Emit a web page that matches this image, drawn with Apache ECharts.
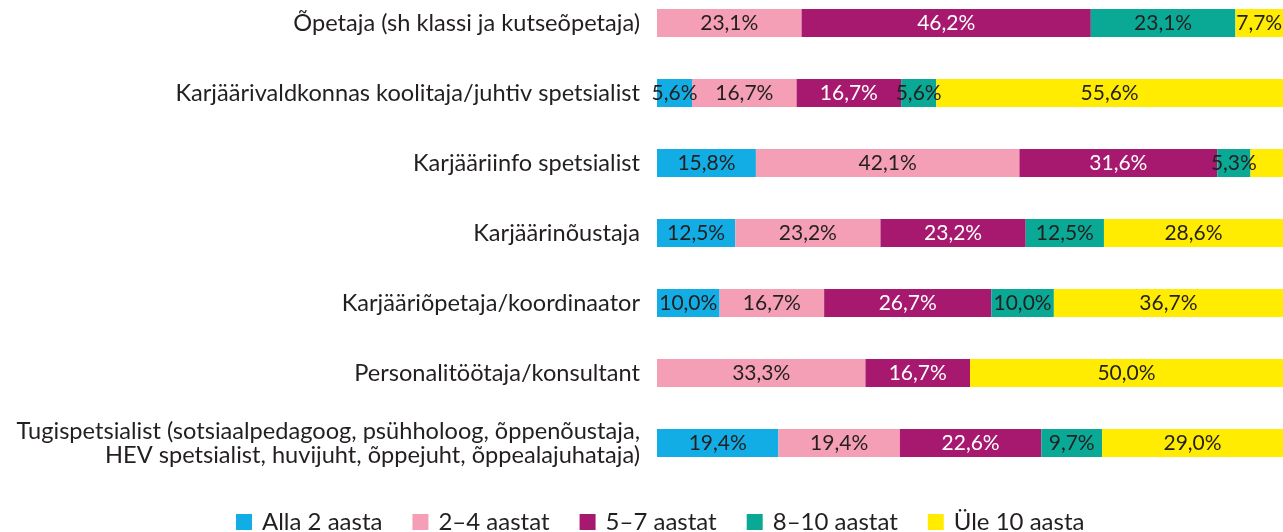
<!DOCTYPE html>
<html>
<head>
<meta charset="utf-8">
<script src="https://cdn.jsdelivr.net/npm/echarts@6/dist/echarts.min.js"></script>
<style>
  html, body { margin: 0; padding: 0; background: #fff; }
  #chart { width: 1283px; height: 532px; }
</style>
</head>
<body>
<div id="chart"></div>
<script>
const categories = [
  'Õpetaja (sh klassi ja kutseõpetaja)',
  'Karjäärivaldkonnas koolitaja/juhtiv spetsialist',
  'Karjääriinfo spetsialist',
  'Karjäärinõustaja',
  'Karjääriõpetaja/koordinaator',
  'Personalitöötaja/konsultant',
  'Tugispetsialist (sotsiaalpedagoog, psühholoog, õppenõustaja,\nHEV spetsialist, huvijuht, õppejuht, õppealajuhataja)'
]
const seriesNames = ['Alla 2 aasta', '2–4 aastat', '5–7 aastat', '8–10 aastat', 'Üle 10 aasta']
const alla2 = [0, 5.6, 15.8, 12.5, 10.0, 0, 19.4]
const aastat2to4 = [23.1, 16.7, 42.1, 23.2, 16.7, 33.3, 19.4]
const aastat5to7 = [46.2, 16.7, 31.6, 23.2, 26.7, 16.7, 22.6]
const aastat8to10 = [23.1, 5.6, 5.3, 12.5, 10.0, 0, 9.7]
const yle10 = [7.7, 55.6, 5.3, 28.6, 36.7, 50.0, 29.0]
// [rida, seeria] – sildid, mis joonisel puuduvad
const hiddenLabels = [[2, 4]]

const colors = ['#13ADE5', '#F49FB6', '#A6196F', '#0AA996', '#FFEC00']
const labelColors = ['#231F20', '#231F20', '#ffffff', '#231F20', '#231F20']
const font = 'Lato'

const values = [alla2, aastat2to4, aastat5to7, aastat8to10, yle10]

const chart = echarts.init(document.getElementById('chart'))
chart.setOption({
  animation: false,
  textStyle: { fontFamily: font },
  grid: { left: 657, right: 0, top: -12, height: 490, outerBoundsMode: 'none' },
  legend: {
    left: 236,
    top: 510,
    padding: 0,
    itemWidth: 16,
    itemHeight: 16,
    itemGap: 30,
    icon: 'rect',
    textStyle: { fontSize: 24, color: '#231F20', fontFamily: font, padding: [0, 0, 0, 5] },
    data: seriesNames
  },
  xAxis: {
    type: 'value',
    min: 0,
    max: 100,
    show: false
  },
  yAxis: {
    type: 'category',
    inverse: true,
    data: categories,
    axisLine: { show: false },
    axisTick: { show: false },
    axisLabel: {
      margin: 17,
      fontSize: 23.6,
      lineHeight: 24,
      color: '#231F20',
      fontFamily: font,
      align: 'right'
    }
  },
  series: values.map((arr, s) => ({
    name: seriesNames[s],
    type: 'bar',
    stack: 'total',
    barWidth: 28,
    itemStyle: { color: colors[s] },
    label: {
      show: true,
      position: 'inside',
      fontSize: 21,
      fontFamily: font,
      color: labelColors[s],
      formatter: p => {
        if (!p.value) return ''
        if (hiddenLabels.some(h => h[0] === p.dataIndex && h[1] === s)) return ''
        return p.value.toFixed(1).replace('.', ',') + '%'
      }
    },
    data: arr
  }))
})
</script>
</body>
</html>
